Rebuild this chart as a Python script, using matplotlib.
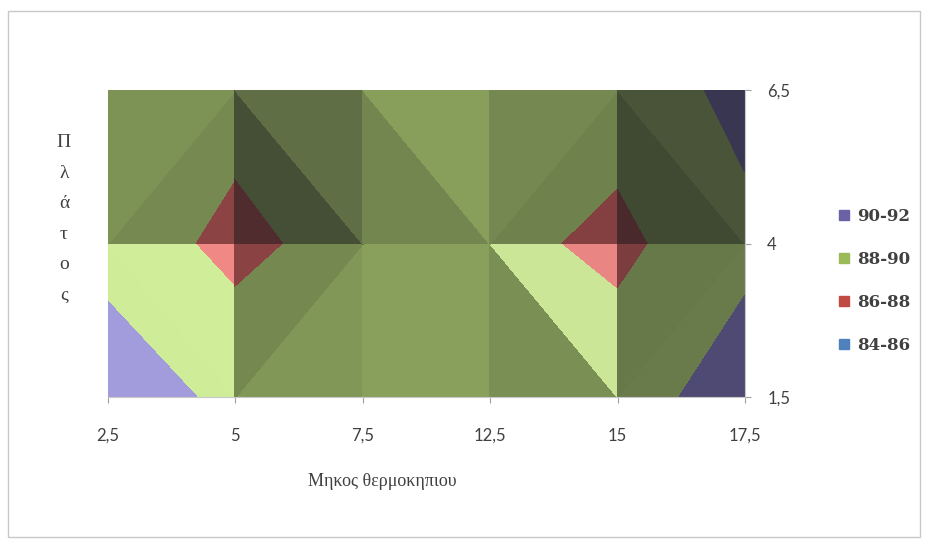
import numpy as np
import matplotlib
matplotlib.use('Agg')
import matplotlib.pyplot as plt
import matplotlib.tri as mtri
from matplotlib.colors import to_rgb
from matplotlib.lines import Line2D
from matplotlib.patches import Rectangle

# ======================
# DATA
# ======================

x_labels = ['2,5', '5', '7,5', '12,5', '15', '17,5']
y_labels = ['1,5', '4', '6,5']

# surface values, one list per row (y = 1,5 / 4 / 6,5)
z_y15 = [91.2, 89.47, 89.6, 88.9, 89.14, 90.91]
z_y4 = [89.26, 87.4, 88.95, 88.6, 87.5, 89.53]
z_y65 = [89.9, 88.8, 89.6, 88.6, 88.85, 90.53]

band_levels = [84, 86, 88, 90, 92]
band_labels = ['84-86', '86-88', '88-90', '90-92']
band_colors = ['#4F81BD', '#BF4B42', '#9BBB59', '#6A62A4']

# diagonal used to split each grid cell into two triangles
split_bottom = ['\\', '/', '/', '\\', '/']
split_top = ['/', '\\', '\\', '/', '\\']

# ======================
# SURFACE
# ======================

Z = np.array([z_y15, z_y4, z_y65])
ny, nx = Z.shape
U, V = np.meshgrid(np.arange(nx), np.arange(ny))
u, v, z = U.ravel().astype(float), V.ravel().astype(float), Z.ravel()


def idx(i, j):
    return j * nx + i


triangles = []
for j, splits in enumerate([split_bottom, split_top]):
    for i, s in enumerate(splits):
        p00, p10, p01, p11 = idx(i, j), idx(i + 1, j), idx(i, j + 1), idx(i + 1, j + 1)
        if s == '/':
            triangles += [[p00, p10, p11], [p00, p11, p01]]
        else:
            triangles += [[p00, p10, p01], [p10, p11, p01]]

light = np.array([1.0, 1.0, 1.0])
light /= np.linalg.norm(light)
z_scale = 0.3


def shade(rgb, inten):
    d = 0.28 + 0.64 * inten
    spec = 0.19 * min(1.0, max(0.0, (inten - 0.8) / 0.1))
    s = np.array([0.08, 0.08, 0.1]) + spec
    return tuple(np.clip(np.array(rgb) * d + s, 0, 1))


fig = plt.figure(figsize=(9.28, 5.45), dpi=100)
ax = fig.add_axes([108 / 928, 1 - 397 / 545, 637 / 928, 307 / 545])

for t in triangles:
    p = np.column_stack([u[t], v[t], z[t] * z_scale])
    n = np.cross(p[1] - p[0], p[2] - p[0])
    if n[2] < 0:
        n = -n
    n /= np.linalg.norm(n)
    inten = max(0.0, float(n @ light))
    cols = [shade(to_rgb(c), inten) for c in band_colors]
    tr = mtri.Triangulation(u[t], v[t], [[0, 1, 2]])
    cs = ax.tricontourf(tr, z[t], levels=band_levels, colors=cols)
    cs.set_edgecolor('face')
    cs.set_linewidth(0.6)

# ======================
# AXES
# ======================

ax.set_xlim(0, nx - 1)
ax.set_ylim(0, ny - 1)
ax.set_xticks(range(nx))
ax.set_xticklabels(x_labels, fontfamily='Lato')
ax.yaxis.tick_right()
ax.set_yticks(range(ny))
ax.set_yticklabels(y_labels, fontfamily='Lato')
for name, sp in ax.spines.items():
    sp.set_visible(name in ('right', 'bottom'))
    sp.set_color('#c8c8c8')
    sp.set_linewidth(0.8)
ax.tick_params(axis='x', length=4, color='#a0a0a0', pad=18, labelsize=12, labelcolor='#404040')
ax.tick_params(axis='y', length=4, color='#a0a0a0', pad=12, labelsize=12, labelcolor='#404040')

fig.text(64 / 928, 1 - 219 / 545, '\n'.join('Πλάτος'), family='Liberation Serif',
         fontsize=14, color='#404040', ha='center', va='center', linespacing=2.05)
fig.text(382 / 928, 1 - 482 / 545, 'Μηκος θερμοκηπιου', family='Liberation Serif',
         fontsize=13, color='#404040', ha='center', va='center')

handles = [Line2D([], [], marker='s', linestyle='', markersize=7, markerfacecolor=c,
                  markeredgecolor=c) for c in band_colors[::-1]]
fig.legend(handles, band_labels[::-1], loc='center left',
           bbox_to_anchor=(830 / 928, 1 - 281 / 545), frameon=False, borderpad=0,
           prop={'family': 'DejaVu Serif', 'weight': 'bold', 'size': 12},
           labelcolor='#404040', labelspacing=1.57, handlelength=0.7, handletextpad=0.4)

fig.patches.append(Rectangle((8 / 928, 1 - 537 / 545), 912 / 928, 526 / 545,
                             transform=fig.transFigure, fill=False,
                             edgecolor='#c8c8c8', linewidth=1))

plt.savefig('out.png', dpi=100)
